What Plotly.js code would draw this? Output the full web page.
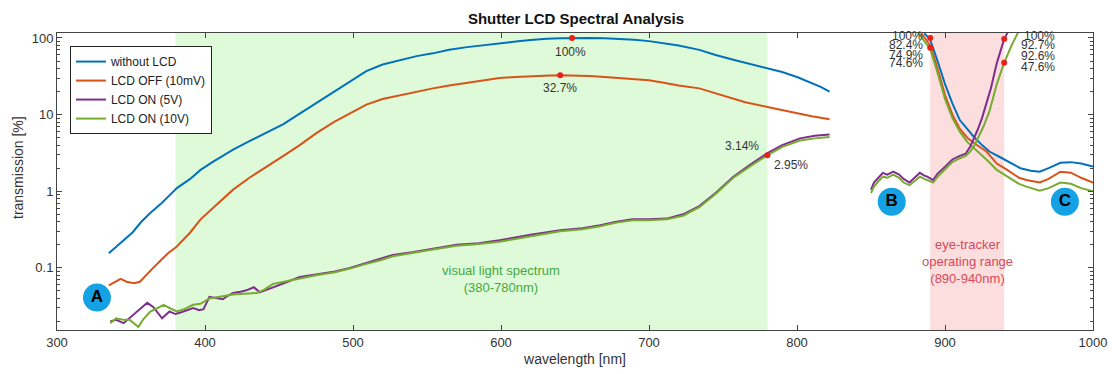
<!DOCTYPE html>
<html>
<head>
<meta charset="utf-8">
<script src="https://cdn.plot.ly/plotly-3.0.1.min.js"></script>
<style>html,body{margin:0;padding:0;background:#fff;}#chart{width:1120px;height:374px;}</style>
</head>
<body>
<div id="chart"></div>
<script>
// ---- series names & colours ----
const seriesNames = ["without LCD", "LCD OFF (10mV)", "LCD ON (5V)", "LCD ON (10V)"];
const seriesColors = ["#0072BD", "#D95319", "#7E2F8E", "#77AC30"];

// ---- main spectrum (335-822 nm) ----
const wlBlue = [335,340,345,351,357,363,370,375,381,390,397,405,412,419,430,442,453,464,475,487,498,509,520,532,543,554,565,577,588,599,610,620,631,640,648,660,670,680,690,700,710,720,734,745,757,768,780,790,800,810,816,822];
const tBlue  = [0.155,0.19,0.23,0.29,0.40,0.52,0.68,0.85,1.1,1.45,1.9,2.4,2.9,3.5,4.5,5.9,7.5,10.3,14,20,27,37,45,52,58,63,70,76,81,86,90,94,98,99,100,100,99,97,95,91,86,80,70,60,52,46,41,36,31,26,23,20];

const wlOrange = [335,338,343,347,352,356,360,365,370,375,381,390,397,405,412,419,430,442,453,464,475,487,498,509,520,532,543,554,565,577,588,599,610,622,633,640,650,660,670,680,690,700,710,720,734,745,755,765,780,790,800,810,822];
const tOrange  = [0.059,0.063,0.072,0.066,0.063,0.066,0.080,0.10,0.125,0.155,0.19,0.29,0.43,0.60,0.80,1.05,1.5,2.1,2.9,4.0,5.7,8.0,10.5,13.5,16,18,20,22,24,26,28,30,31,32,32.5,32.7,32.5,32,31,30,29,28,26,24,22,19,16.5,14.5,12.6,11.5,10.3,9.5,8.7];

const wlPurple = [336,340,345,350,354,358,361,365,368,371,376,380,383,388,392,396,399,403,408,412,416,419,424,428,433,437,442,446,455,464,475,487,498,509,518,527,540,555,570,585,599,620,640,655,667,678,689,700,712,723,734,745,757,768,780,790,802,812,822];
const tPurple  = [0.020,0.021,0.019,0.023,0.027,0.032,0.035,0.031,0.026,0.022,0.027,0.025,0.026,0.028,0.030,0.028,0.029,0.042,0.040,0.039,0.044,0.047,0.049,0.051,0.056,0.048,0.052,0.056,0.065,0.076,0.082,0.089,0.10,0.117,0.13,0.148,0.16,0.18,0.20,0.21,0.23,0.27,0.31,0.33,0.36,0.40,0.43,0.43,0.44,0.50,0.64,0.95,1.55,2.2,3.14,4.0,4.9,5.3,5.5];

const wlGreen = [336,340,345,349,352,355,358,363,368,372,376,381,386,392,397,403,410,419,427,435,440,446,455,464,475,487,498,509,518,527,540,555,570,585,599,620,640,655,667,678,689,700,712,723,734,745,757,768,780,790,802,812,822];
const tGreen  = [0.019,0.022,0.021,0.021,0.019,0.017,0.021,0.027,0.030,0.033,0.030,0.027,0.029,0.033,0.034,0.040,0.042,0.045,0.046,0.047,0.052,0.062,0.067,0.073,0.080,0.087,0.098,0.113,0.125,0.142,0.155,0.175,0.195,0.205,0.22,0.26,0.30,0.32,0.35,0.39,0.42,0.42,0.43,0.48,0.62,0.92,1.5,2.1,2.95,3.8,4.6,4.9,5.1];

// ---- NIR section (850-1000 nm): falling curves ----
const wlBlueNir = [886,890,895,900,905,910,915,920,925,930,937,945,951,958,964,970,978,985,992,1000];
const tBlueNir  = [116,95,50,25,14,8.5,6.5,5.0,4.0,3.3,2.8,2.3,2.0,1.85,1.8,2.0,2.35,2.4,2.3,2.1];
const wlOrangeNir = [884,890,895,900,905,910,915,920,928,935,942,950,955,964,970,978,985,992,1000];
const tOrangeNir  = [116,80,40,18,10,6.5,5.0,4.2,3.3,2.3,1.9,1.5,1.4,1.3,1.45,1.8,1.75,1.5,1.3];
const wlGreenNir = [882,890,895,900,905,910,915,920,928,935,942,950,955,964,970,978,985,992,1000];
const tGreenNir  = [116,72,35,16,9,6,4.4,3.6,2.6,1.9,1.55,1.25,1.15,1.02,1.1,1.3,1.25,1.1,1.0];

// ---- NIR section: rising curves ----
const wlPurpleRise = [850,852,855,858,861,865,869,872,876,880,883,886,888,892,895,899,905,910,914,917,920,922,925,928,931,935,938,940,943];
const tPurpleRise  = [1.05,1.3,1.5,1.74,1.65,1.8,1.65,1.45,1.3,1.55,1.74,1.6,1.55,1.4,1.7,2.0,2.6,2.9,3.1,3.8,5.0,6.3,9,14,22,47,72,97,125];
const wlGreenRise = [850,852,855,858,861,865,869,872,876,880,883,886,888,892,895,899,905,910,914,917,920,923,926,930,935,940,945,950];
const tGreenRise  = [0.95,1.15,1.35,1.55,1.5,1.65,1.5,1.3,1.2,1.4,1.55,1.45,1.4,1.3,1.55,1.85,2.4,2.7,2.9,3.3,4.0,5.3,7,11,25,47.6,80,125];

// ---- marked points ----
const dotX = [648, 640, 780, 890, 890, 940, 940];
const dotY = [100, 32.7, 2.95, 100, 74.6, 97, 47.6];

// ---- badges ----
const badgeLabels = ["A", "B", "C"];
const badgeX = [327, 864, 981];
const badgeY = [0.041, 0.73, 0.73];

// ---- bands ----
const visBand = [380, 780];
const eyeBand = [890, 940];

// paper coords from pixel positions (plot area x 57..1093, y 33..330)
const py = p => (330 - p) / 297;
const pxp = p => (p - 57) / 1036;

const lineW = 2;
const traces = [];
const mainX = [wlBlue, wlOrange, wlPurple, wlGreen];
const mainY = [tBlue, tOrange, tPurple, tGreen];
for (let i = 0; i < 4; i++) {
  traces.push({x: mainX[i], y: mainY[i], type: 'scatter', mode: 'lines', name: seriesNames[i],
    line: {color: seriesColors[i], width: lineW}});
}
const nir = [
  [wlBlueNir, tBlueNir, 0], [wlOrangeNir, tOrangeNir, 1], [wlGreenNir, tGreenNir, 3],
  [wlPurpleRise, tPurpleRise, 2], [wlGreenRise, tGreenRise, 3]
];
nir.forEach(n => traces.push({x: n[0], y: n[1], type: 'scatter', mode: 'lines', showlegend: false,
  line: {color: seriesColors[n[2]], width: lineW}, hoverinfo: 'skip'}));
traces.push({x: dotX, y: dotY, type: 'scatter', mode: 'markers', showlegend: false,
  marker: {color: '#e8211b', size: 6}, cliponaxis: false});
traces.push({x: badgeX, y: badgeY, type: 'scatter', mode: 'markers+text', showlegend: false,
  text: badgeLabels, textposition: 'middle center',
  textfont: {family: 'Liberation Sans, Arial, sans-serif', size: 17, color: '#000', weight: 'bold'},
  marker: {color: '#14a2e4', size: 28, line: {width: 0}}});

const fontFam = 'Liberation Sans, Arial, sans-serif';
const grayTxt = '#333';
const ann = [];
function lab(text, x, p, xanchor, color, size) {
  ann.push({text: text, x: x, xref: 'x', y: py(p), yref: 'paper', xanchor: xanchor || 'center',
    yanchor: 'middle', showarrow: false, font: {family: fontFam, size: size || 12, color: color || grayTxt}});
}
lab('100%', 647, 52);
lab('32.7%', 640, 88);
lab('3.14%', 776, 146, 'right');
lab('2.95%', 783, 165, 'left');
lab('100%', 886.5, 36, 'right');
lab('82.4%', 886.5, 45, 'right');
lab('74.9%', 886.5, 55, 'right');
lab('74.6%', 886.5, 63, 'right');
lab('100%', 975.7, 36, 'right');
lab('92.7%', 975.7, 45, 'right');
lab('92.6%', 975.7, 56, 'right');
lab('47.6%', 975.7, 67, 'right');
ann.push({text: 'visual light spectrum<br>(380-780nm)', x: 600, xref: 'x', y: py(297), yref: 'paper',
  showarrow: false, align: 'center', font: {family: fontFam, size: 13, color: '#45a83f'}});
ann.push({text: 'eye-tracker<br>operating range<br>(890-940nm)', x: 915, xref: 'x', y: py(288), yref: 'paper',
  showarrow: false, align: 'center', font: {family: fontFam, size: 13, color: '#d9485a'}});
ann.push({text: 'transmission [%]', textangle: -90, x: pxp(18), xref: 'paper', y: py(168), yref: 'paper',
  xanchor: 'center', yanchor: 'middle', showarrow: false, font: {family: fontFam, size: 14, color: grayTxt}});

const minorVals = [];
[0.01, 0.1, 1, 10, 100].forEach(d => { for (let k = 2; k <= 9; k++) minorVals.push(+(d * k).toPrecision(3)); });

const layout = {
  width: 1120, height: 374,
  margin: {l: 57, r: 27, t: 33, b: 44},
  paper_bgcolor: '#fff', plot_bgcolor: '#fff',
  font: {family: fontFam, size: 13, color: grayTxt},
  title: {text: '<b>Shutter LCD Spectral Analysis</b>', x: 0.5143, xanchor: 'center', y: 0.949, yanchor: 'middle',
    font: {family: fontFam, size: 15, color: '#111'}},
  xaxis: {range: [300, 1000], dtick: 100, tick0: 300, ticks: 'inside', ticklen: 5, tickcolor: '#444',
    showline: true, linecolor: '#444', linewidth: 1, mirror: 'allticks', showgrid: false, zeroline: false,
    tickfont: {size: 13, color: grayTxt},
    title: {text: 'wavelength [nm]', font: {size: 14, color: grayTxt}, standoff: 5}},
  yaxis: {type: 'log', range: [-1.81, 2.065], tickvals: [0.1, 1, 10, 100], ticktext: ['0.1', '1', '10', '100'],
    ticks: 'inside', ticklen: 5, tickcolor: '#444',
    minor: {tickvals: minorVals, ticks: 'inside', ticklen: 3, tickcolor: '#444', showgrid: false},
    showline: true, linecolor: '#444', linewidth: 1, mirror: 'allticks', showgrid: false, zeroline: false,
    tickfont: {size: 13, color: grayTxt}},
  legend: {x: 0.0125, y: 0.956, xanchor: 'left', yanchor: 'top', bgcolor: '#fff', bordercolor: '#222', borderwidth: 1,
    font: {size: 12, color: '#222'}, tracegroupgap: 0, itemwidth: 30},
  shapes: [
    {type: 'rect', xref: 'x', yref: 'paper', x0: visBand[0], x1: visBand[1], y0: 0, y1: 1,
      fillcolor: 'rgb(222,250,216)', line: {width: 0}, layer: 'below'},
    {type: 'rect', xref: 'x', yref: 'paper', x0: eyeBand[0], x1: eyeBand[1], y0: 0, y1: 1,
      fillcolor: 'rgb(252,222,222)', line: {width: 0}, layer: 'below'}
  ],
  annotations: ann,
  showlegend: true
};

Plotly.newPlot('chart', traces, layout, {displayModeBar: false, staticPlot: true});
</script>
</body>
</html>
